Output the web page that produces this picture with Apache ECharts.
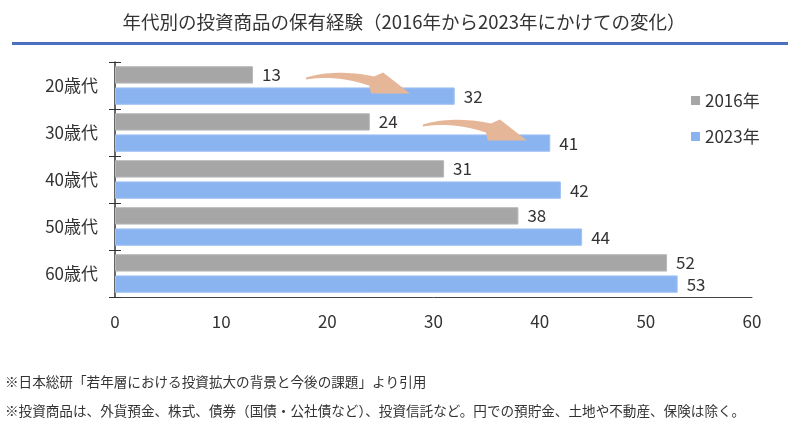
<!DOCTYPE html>
<html>
<head>
<meta charset="utf-8">
<title></title>
<script src="https://cdn.jsdelivr.net/npm/echarts@6/dist/echarts.min.js"></script>
<style>
  html, body { margin: 0; padding: 0; background: #fff; }
  #chart { width: 800px; height: 438px; }
</style>
</head>
<body>
<div id="chart"></div>
<script>
var ageGroups = ["20歳代", "30歳代", "40歳代", "50歳代", "60歳代"];
var values2016 = [13, 24, 31, 38, 52];
var values2023 = [32, 41, 42, 44, 53];
var xTicks = [0, 10, 20, 30, 40, 50, 60];
var arrowRows = [0, 1];

var jp = '"Noto Sans CJK JP", "Noto Sans", sans-serif';
var chart = echarts.init(document.getElementById("chart"));

var labelStyle = {
    show: true,
    position: "right",
    distance: 9,
    color: "#333",
    fontSize: 17,
    fontFamily: jp
};

chart.setOption({
    animation: false,
    grid: { left: 115, right: 48, top: 62, bottom: 141 },
    legend: {
        orient: "vertical",
        left: 686,
        top: 87,
        icon: "rect",
        itemWidth: 9,
        itemHeight: 9,
        itemGap: 19,
        itemStyle: { borderWidth: 0 },
        textStyle: { color: "#333", fontSize: 17, fontFamily: jp },
        data: ["2016年", "2023年"]
    },
    xAxis: {
        type: "value",
        min: xTicks[0],
        max: xTicks[xTicks.length - 1],
        interval: 10,
        axisLine: { show: true, lineStyle: { color: "#444", width: 1 } },
        axisTick: { show: false },
        splitLine: { show: false },
        axisLabel: { color: "#333", fontSize: 17, margin: 16, fontFamily: jp }
    },
    yAxis: [{
        type: "category",
        data: ageGroups,
        inverse: true,
        axisLine: { show: true, lineStyle: { color: "#333", width: 1.5 } },
        axisTick: { show: true, length: 6, lineStyle: { color: "#333" } },
        axisLabel: { color: "#333", fontSize: 17, margin: 17, fontFamily: jp }
    }, {
        type: "category",
        data: ageGroups,
        inverse: true,
        position: "left",
        axisLine: { show: false },
        axisTick: { show: true, inside: true, length: 6, lineStyle: { color: "#333" } },
        axisLabel: { show: false }
    }],
    series: [{
        name: "2016年",
        type: "bar",
        data: values2016,
        barCategoryGap: "18%",
        barGap: "22%",
        itemStyle: { color: "#a6a6a6", borderColor: "#b8b8b8", borderWidth: 1 },
        label: labelStyle
    }, {
        name: "2023年",
        type: "bar",
        data: values2023,
        itemStyle: { color: "#8ab4f0", borderColor: "#a0c2f4", borderWidth: 1 },
        label: labelStyle
    }]
});

// curved arrow outline: quadratic edges sampled into a polygon
function quad(p0, c, p1, n) {
    var pts = [];
    for (var k = 0; k <= n; k++) {
        var t = k / n, a = (1 - t) * (1 - t), b = 2 * (1 - t) * t, d = t * t;
        pts.push([a * p0[0] + b * c[0] + d * p1[0], a * p0[1] + b * c[1] + d * p1[1]]);
    }
    return pts;
}
function arrowPoints(x, y) {
    var top = quad([0, 0], [30, -9], [68, -1], 16);
    var bottom = quad([63, 8], [30, -3], [0, 2], 16);
    var pts = top.concat([[77, -5], [104, 16], [65, 16]], bottom);
    return pts.map(function (p) { return [p[0] + x, p[1] + y]; });
}

var arrows = arrowRows.map(function (i) {
    var p = chart.convertToPixel({ gridIndex: 0 }, [values2016[i] + 5, i]);
    return {
        type: "polygon",
        z: 100,
        shape: { points: arrowPoints(p[0], p[1] - 8) },
        style: { fill: "#e6b698" }
    };
});

var notes = "serif, \"Noto Sans CJK JP\"";
chart.setOption({
    graphic: arrows.concat([{
        type: "text",
        x: 404,
        y: 22,
        style: {
            text: "年代別の投資商品の保有経験（2016年から2023年にかけての変化）",
            fill: "#333",
            font: '18.5px ' + jp,
            textAlign: "center",
            textVerticalAlign: "middle"
        }
    }, {
        type: "rect",
        shape: { x: 12, y: 42, width: 776, height: 3 },
        style: { fill: "#4d6fc0" }
    }, {
        type: "text",
        x: 5,
        y: 383,
        style: {
            text: "※日本総研「若年層における投資拡大の背景と今後の課題」より引用",
            fill: "#333",
            font: "13.6px " + notes,
            textVerticalAlign: "middle"
        }
    }, {
        type: "text",
        x: 5,
        y: 412,
        style: {
            text: "※投資商品は、外貨預金、株式、債券（国債・公社債など）、投資信託など。円での預貯金、土地や不動産、保険は除く。",
            fill: "#333",
            font: "13.6px " + notes,
            textVerticalAlign: "middle"
        }
    }])
});
</script>
</body>
</html>
